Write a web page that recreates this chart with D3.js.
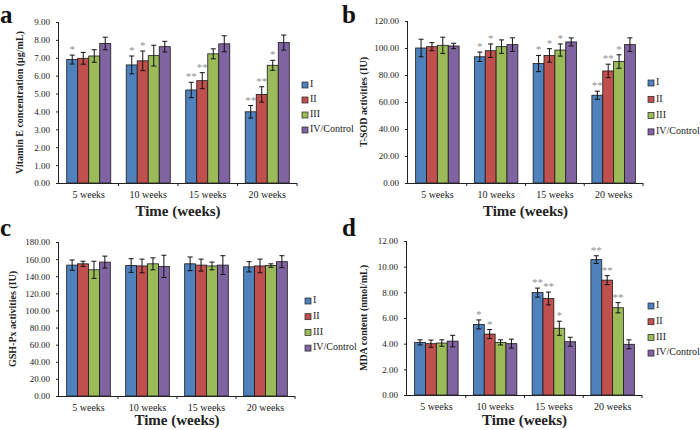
<!DOCTYPE html>
<html><head><meta charset="utf-8">
<script src="https://cdn.jsdelivr.net/npm/d3@7"></script>
<style>body{margin:0;background:#fff}svg{display:block;font-family:"Liberation Serif","Times New Roman",serif}</style>
</head><body>
<svg id="c" width="700" height="430"></svg>
<script>
const categories = ["5 weeks","10 weeks","15 weeks","20 weeks"];
const series = ["I","II","III","IV/Control"];
const colors = ["#4f81bd","#c0504d","#9bbb59","#8064a2"];

// rows = categories, columns = series
const vitEMean = [[6.9,6.97,7.1,7.8],[6.6,6.83,7.12,7.62],[5.2,5.72,7.22,7.78],[3.98,4.95,6.58,7.85]];
const vitEErr  = [[0.25,0.33,0.35,0.35],[0.5,0.55,0.58,0.3],[0.43,0.45,0.28,0.45],[0.35,0.43,0.28,0.42]];
const vitESig  = [["*","","",""],["*","*","",""],["**","**","",""],["**","**","*",""]];
const vitETicks = [0,1,2,3,4,5,6,7,8,9];

const sodMean = [[100,101,102,101.5],[93.5,98,101,102.5],[88.5,94.5,98.5,104.5],[65,83,90,102.5]];
const sodErr  = [[6.5,3,6,2],[3.5,5,5,5],[6,5,4.5,3],[3,5,5,5]];
const sodSig  = [["","","",""],["*","*","",""],["*","*","*",""],["**","**","*",""]];
const sodTicks = [0,20,40,60,80,100,120];

const gshMean = [[153,154.5,147.5,156.5],[152.5,152,154.5,151.5],[154.5,153,152,153],[151,152,152.5,157]];
const gshErr  = [[6,3,10,7],[8,8,7,13],[8,7,4.5,11],[6,8,2,7]];
const gshSig  = [["","","",""],["","","",""],["","","",""],["","","",""]];
const gshTicks = [0,20,40,60,80,100,120,140,160,180];

const mdaMean = [[4.1,4.0,4.05,4.2],[5.5,4.75,4.1,4.0],[7.98,7.52,5.2,4.15],[10.55,8.95,6.8,3.95]];
const mdaErr  = [[0.2,0.28,0.25,0.45],[0.35,0.35,0.2,0.35],[0.35,0.5,0.55,0.35],[0.3,0.35,0.4,0.35]];
const mdaSig  = [["","","",""],["*","*","",""],["**","**","*",""],["**","**","**",""]];
const mdaTicks = [0,2,4,6,8,10,12];

const svg = d3.select("#c");
const serif = "Liberation Serif";

function panel(o){
  const g = svg.append("g");
  const x0 = d3.scaleBand().domain(categories).range([o.left,o.right]);
  const bw = x0.bandwidth();
  const x1 = d3.scaleBand().domain(series).range([bw*0.13,bw*0.87]);
  const y = d3.scaleLinear().domain([o.ticks[0],o.ticks[o.ticks.length-1]]).range([o.bottom,o.top]);

  categories.forEach((c,ci)=>{
    series.forEach((s,si)=>{
      const v=o.mean[ci][si], e=o.err[ci][si];
      const bx=x0(c)+x1(s);
      g.append("rect").attr("x",bx).attr("y",y(v)).attr("width",x1.bandwidth()).attr("height",y(0)-y(v))
        .attr("fill",colors[si]).attr("stroke","#1a1a1a").attr("stroke-width",0.8);
      const cx=bx+x1.bandwidth()/2;
      g.append("line").attr("x1",cx).attr("x2",cx).attr("y1",y(v-e)).attr("y2",y(v+e)).attr("stroke","#111").attr("stroke-width",1);
      [v-e,v+e].forEach(t=>g.append("line").attr("x1",cx-2.5).attr("x2",cx+2.5).attr("y1",y(t)).attr("y2",y(t)).attr("stroke","#111").attr("stroke-width",1));
      const sg=o.sig[ci][si];
      if(sg){
        g.append("text").attr("x",cx).attr("y",y(v+e)-2).attr("text-anchor","middle")
          .attr("font-family",serif).attr("font-size",11).attr("fill","#909090").text(sg);
      }
    });
  });

  const ya = d3.axisLeft(y).tickValues(o.ticks).tickSize(3).tickFormat(d3.format(".2f"));
  const yg = g.append("g").attr("transform",`translate(${o.left},0)`).call(ya);
  yg.select(".domain").attr("stroke","#222").attr("d",`M-0.5,${o.top}V${o.bottom}`);
  yg.selectAll(".tick line").attr("stroke","#222");
  yg.selectAll("text").attr("font-family",serif).attr("font-size",9).attr("fill","#222").attr("dx",-3);

  const xa = d3.axisBottom(x0).tickSize(0).tickPadding(8);
  const xg = g.append("g").attr("transform",`translate(0,${o.bottom})`).call(xa);
  xg.select(".domain").attr("stroke","#222").attr("d",`M${o.left},0.5H${o.right}`);
  xg.selectAll("text").attr("font-family",serif).attr("font-size",10).attr("fill","#222");
  categories.forEach((c)=>{
    const bx = x0(c)+bw;
    g.append("line").attr("x1",bx).attr("x2",bx).attr("y1",o.bottom).attr("y2",o.bottom+3).attr("stroke","#222");
  });

  g.append("text").attr("x",(o.left+o.right)/2).attr("y",o.titleY).attr("text-anchor","middle")
    .attr("font-family",serif).attr("font-weight","bold").attr("font-size",15).attr("fill","#222").text("Time (weeks)");

  g.append("text").attr("transform",`translate(${o.ylabX},${(o.top+o.bottom)/2}) rotate(-90)`)
    .attr("text-anchor","middle").attr("dominant-baseline","middle")
    .attr("font-family",serif).attr("font-weight","bold").attr("font-size",10).attr("fill","#222").text(o.ylabel);

  series.forEach((s,i)=>{
    const ly=o.legY+i*o.legStep;
    g.append("rect").attr("x",o.legX).attr("y",ly-3).attr("width",6).attr("height",6).attr("fill",colors[i]).attr("stroke","#222").attr("stroke-width",0.7);
    g.append("text").attr("x",o.legX+8).attr("y",ly).attr("dominant-baseline","middle")
      .attr("font-family",serif).attr("font-size",10).attr("fill","#222").text(s);
  });

  g.append("text").attr("x",o.letX).attr("y",o.letY).attr("font-family",serif).attr("font-weight","bold")
    .attr("font-size",25).attr("fill","#111").text(o.letter);
}

panel({letter:"a",letX:0,letY:23,left:59,right:297,top:22,bottom:183,titleY:216,ticks:vitETicks,mean:vitEMean,err:vitEErr,sig:vitESig,
  ylabel:"Vitamin E concentration (μg/mL)",ylabX:21,legX:302,legY:85,legStep:15});
panel({letter:"b",letX:342,letY:23,left:408,right:643,top:21,bottom:183,titleY:216,ticks:sodTicks,mean:sodMean,err:sodErr,sig:sodSig,
  ylabel:"T-SOD activities (IU)",ylabX:365,legX:648,legY:83,legStep:16.3});
panel({letter:"c",letX:0,letY:236,left:59,right:295,top:242,bottom:396,titleY:425,ticks:gshTicks,mean:gshMean,err:gshErr,sig:gshSig,
  ylabel:"GSH-Px activities (IU)",ylabX:14,legX:305,legY:301,legStep:15.7});
panel({letter:"d",letX:342,letY:236,left:407,right:642,top:241,bottom:395,titleY:425,ticks:mdaTicks,mean:mdaMean,err:mdaErr,sig:mdaSig,
  ylabel:"MDA content (nmol/mL)",ylabX:365,legX:648,legY:306,legStep:15.7});
</script>
</body></html>
